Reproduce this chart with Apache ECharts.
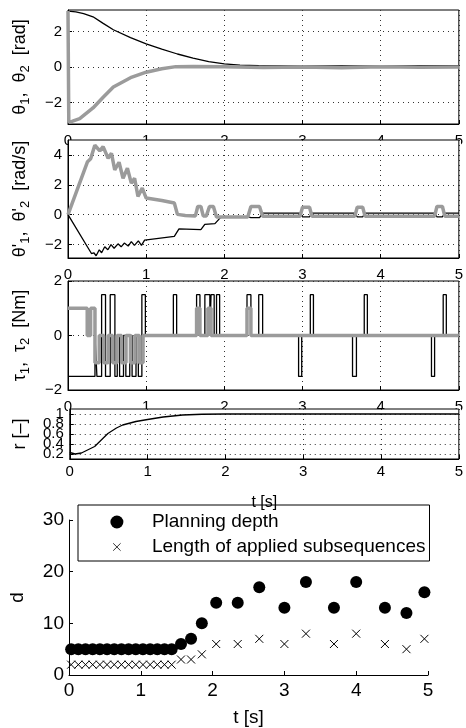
<!DOCTYPE html>
<html>
<head>
<meta charset="utf-8">
<script src="https://cdn.jsdelivr.net/npm/echarts@6/dist/echarts.min.js"></script>
<style>
html, body { margin: 0; padding: 0; background: #fff; }
#main { width: 466px; height: 728px; }
</style>
</head>
<body>
<div id="main"></div>
<script>
var chart = echarts.init(document.getElementById('main'));

// angles [rad]
var theta1 = [[0,3.14],[0.1,3.1],[0.2,3.0],[0.32,2.82],[0.45,2.45],[0.58,2.09],[0.8,1.65],[1.0,1.30],[1.2,1.0],[1.4,0.73],[1.6,0.5],[1.8,0.3],[2.0,0.17],[2.2,0.1],[2.44,0.07],[3,0.05],[3.5,0.06],[4,0.05],[4.5,0.07],[5,0.07]];
var theta2 = [[0,3.14],[0.01,-3.1],[0.05,-3.05],[0.15,-2.9],[0.32,-2.3],[0.45,-1.7],[0.58,-1.12],[0.8,-0.6],[1.0,-0.29],[1.2,-0.1],[1.38,0.02],[1.6,0.03],[2.0,0.02],[2.5,-0.03],[3,0.0],[3.5,-0.04],[4,0.02],[4.5,-0.02],[5,0.0]];

// angular velocities [rad/s]
var dtheta1 = [[0,0],[0.30,-2.6],[0.33,-2.55],[0.36,-2.75],[0.40,-2.35],[0.43,-2.55],[0.47,-2.15],[0.51,-2.35],[0.55,-2.0],[0.59,-2.25],[0.64,-1.95],[0.68,-2.15],[0.72,-1.9],[0.77,-2.1],[0.81,-1.8],[0.85,-2.05],[0.90,-1.75],[0.94,-2.05],[0.98,-1.7],[1.0,-1.65],[1.36,-1.45],[1.42,-0.95],[1.70,-1.0],[1.75,-0.65],[1.88,-0.6],[1.95,-0.2],[2.0,-0.15],[2.30,-0.15],[2.34,-0.2],[2.45,-0.2],[2.49,0.1],[2.97,0.1],[3.0,-0.15],[3.09,-0.15],[3.12,0.1],[3.67,0.1],[3.70,-0.15],[3.77,-0.15],[3.80,0.1],[4.69,0.1],[4.72,-0.15],[4.79,-0.15],[4.82,0.1],[5,0.1]];
var dtheta2 = [[0,0],[0.25,3.55],[0.29,3.75],[0.343,4.65],[0.407,4.27],[0.449,4.56],[0.513,3.78],[0.556,4.11],[0.598,3.0],[0.653,3.51],[0.704,2.44],[0.76,3.11],[0.81,2.11],[0.852,2.44],[0.895,1.22],[0.95,1.78],[1.0,1.11],[1.2,0.95],[1.36,0.78],[1.40,0.02],[1.5,-0.05],[1.63,-0.08],[1.66,0.55],[1.70,0.55],[1.73,-0.08],[1.77,-0.08],[1.81,0.55],[1.86,0.55],[1.90,-0.15],[2.3,-0.15],[2.34,0.55],[2.45,0.55],[2.49,-0.1],[2.97,-0.1],[3.0,0.5],[3.09,0.5],[3.12,-0.1],[3.67,-0.1],[3.70,0.5],[3.77,0.5],[3.80,-0.1],[4.69,-0.1],[4.72,0.55],[4.79,0.55],[4.82,-0.1],[5,-0.1]];

// torques [Nm], value held from each switching time
var tau1T = [0,0.345,0.37,0.43,0.48,0.54,0.60,0.63,0.66,0.71,0.74,0.79,0.82,0.87,0.90,0.945,0.99,1.348,1.39,1.645,1.688,1.751,1.815,1.83,1.87,1.90,1.94,2.29,2.34,2.44,2.49,2.95,2.99,3.10,3.14,3.64,3.69,3.79,3.83,4.65,4.69,4.80,4.84,5];
var tau1V = [-1.5,0,-1.5,1.5,-1.5,1.5,-1.5,0,-1.5,0,-1.5,0,-1.5,0,-1.5,1.5,0,1.5,0,1.5,0,1.5,0,1.5,0,1.5,0,1.5,0,1.5,0,-1.5,0,1.5,0,-1.5,0,1.5,0,-1.5,0,1.5,0,0];
var tau2T = [0,0.246,0.289,0.345,0.40,0.457,0.514,0.571,0.628,0.685,0.742,0.799,0.856,0.913,0.96,1.645,1.688,1.79,1.83,2.29,2.34,5];
var tau2V = [1,0,1,-1,0,-1,0,-1,0,-1,0,-1,0,-1,0,1,0,1,0,1,0,0];

// r [-]
var rVals = [[0,0.23],[0.07,0.2],[0.15,0.22],[0.32,0.35],[0.49,0.61],[0.6,0.72],[0.68,0.78],[0.85,0.85],[1.0,0.89],[1.2,0.94],[1.45,0.98],[1.7,0.995],[2,1.0],[5,1.0]];

// planning depth and subsequence length
var depthT = [0.03,0.13,0.23,0.33,0.43,0.53,0.63,0.73,0.83,0.93,1.03,1.13,1.23,1.33,1.43,1.56,1.70,1.85,2.05,2.35,2.65,3.0,3.3,3.69,4.0,4.40,4.70,4.95];
var depthV = [5,5,5,5,5,5,5,5,5,5,5,5,5,5,5,6,7,10,14,14,17,13,18,13,18,13,12,16];
var subLenV = [2,2,2,2,2,2,2,2,2,2,2,2,2,2,2,3,3,4,6,6,7,6,8,6,8,6,5,7];

var yTicks = [[-2,0,2],[-2,0,2,4],[-2,0,2],[0.2,0.6,1],[0,10,20,30]];
var rTicksExtra = [0.4,0.8];
var yRange = [[-3.2,3.2],[-2.9,5],[-2,2],[0.1,1.1],[0,30]];

function zip(ts, vs) {
  return ts.map(function (t, i) { return [t, vs[i]]; });
}
function fmt(v) { return String(v).replace('-', '\u2212'); }

var FONT = 'Liberation Sans, Arial, sans-serif';
var gridPos = [
  {top: 10, height: 114},
  {top: 140, height: 118},
  {top: 281, height: 109},
  {top: 409, height: 50}
];
var yNames = [
  '\u03b8{s|1},  \u03b8{s|2}  [rad]',
  '\u03b8\'{s|1},  \u03b8\'{s|2}  [rad/s]',
  '\u03c4{s|1},  \u03c4{s|2}  [Nm]',
  'r [\u2013]'
];
var nameStyle = {
  fontSize: 18, color: '#000', fontFamily: FONT, lineHeight: 24,
  rich: {s: {fontSize: 13, fontFamily: FONT, verticalAlign: 'bottom', color: '#000'}}
};
var dotted = {show: true, lineStyle: {color: '#333', width: 1, type: [1, 4]}};

var grids = [], xAxes = [], yAxes = [], covers = [];
gridPos.forEach(function (g, i) {
  // white panel that hides the tick labels of the panel above, as in the original figure
  if (i > 0) {
    covers.push({type: 'rect', left: 68, top: g.top, silent: true, z: 4 * i,
      shape: {width: 393, height: g.height}, style: {fill: '#fff'}});
  }
  grids.push({left: 68, right: 5, top: g.top, height: g.height, show: true,
    backgroundColor: 'transparent', borderColor: '#000', borderWidth: 1, z: 4 * i + 1});
  xAxes.push({type: 'value', gridIndex: i, min: 0, max: 5, interval: 1, z: 4 * i + 2,
    axisLine: {show: true, onZero: false, lineStyle: {color: '#000'}},
    axisTick: {inside: true, length: 4, lineStyle: {color: '#000'}},
    axisLabel: {color: '#000', fontSize: 15, fontFamily: FONT, margin: i === 3 ? 5 : 9,
      hideOverlap: false, showMinLabel: true, showMaxLabel: true},
    splitLine: dotted,
    name: i === 3 ? 't [s]' : '', nameLocation: 'middle', nameGap: 36,
    nameTextStyle: {fontSize: 16, color: '#000', fontFamily: FONT}});
  var ticks = i === 3 ? yTicks[i].concat(rTicksExtra) : yTicks[i];
  yAxes.push({type: 'value', gridIndex: i, min: yRange[i][0], max: yRange[i][1], z: 4 * i + 2,
    axisLine: {show: true, onZero: false, lineStyle: {color: '#000'}},
    axisTick: {inside: true, length: 4, lineStyle: {color: '#000'}, customValues: ticks},
    axisLabel: {color: '#000', fontSize: 15, fontFamily: FONT, margin: 6, formatter: fmt,
      customValues: yTicks[i], hideOverlap: false, showMinLabel: true, showMaxLabel: true},
    splitLine: dotted,
    name: yNames[i], nameLocation: 'middle', nameRotate: 90, nameGap: 36, nameTextStyle: nameStyle});
});

// bottom plot
grids.push({left: 63, right: 38, top: 520, height: 157, z: 17});
xAxes.push({type: 'value', gridIndex: 4, min: 0, max: 5, interval: 1, z: 18,
  axisLine: {show: true, onZero: false, lineStyle: {color: '#000'}},
  axisTick: {inside: true, length: 4, lineStyle: {color: '#000'}},
  axisLabel: {color: '#000', fontSize: 19, fontFamily: FONT, margin: 6, hideOverlap: false},
  splitLine: {show: false},
  name: 't [s]', nameLocation: 'middle', nameGap: 33,
  nameTextStyle: {fontSize: 19, color: '#000', fontFamily: FONT}});
yAxes.push({type: 'value', gridIndex: 4, min: 0, max: 30, interval: 10, z: 18,
  axisLine: {show: true, onZero: false, lineStyle: {color: '#000'}},
  axisTick: {inside: true, length: 4, lineStyle: {color: '#000'}},
  axisLabel: {color: '#000', fontSize: 19, fontFamily: FONT, margin: 5, hideOverlap: false},
  splitLine: {show: false},
  name: 'd', nameLocation: 'middle', nameRotate: 90, nameGap: 42,
  nameTextStyle: {fontSize: 19, color: '#000', fontFamily: FONT}});
// second label row for r axis (the labels overlap in the original)
yAxes.push({type: 'value', gridIndex: 3, min: yRange[3][0], max: yRange[3][1], z: 15,
  position: 'left', offset: 0,
  axisLine: {show: false}, axisTick: {show: false}, splitLine: {show: false},
  axisLabel: {color: '#000', fontSize: 15, fontFamily: FONT, margin: 6,
    customValues: rTicksExtra, hideOverlap: false}});

var BLACK = {color: '#000', width: 1.3};
var GRAY = {color: '#9b9b9b', width: 3.5};
function line(i, data, style, step) {
  return {type: 'line', xAxisIndex: i, yAxisIndex: i, data: data, showSymbol: false,
    step: step || false, lineStyle: style, itemStyle: {color: style.color},
    z: 4 * i + 3, animation: false, silent: true};
}

var crossPath = 'path://M0,0L8,8M8,0L0,8';
var option = {
  animation: false,
  grid: grids,
  xAxis: xAxes,
  yAxis: yAxes,
  graphic: covers,
  legend: {
    left: 78, top: 505, orient: 'vertical',
    borderColor: '#000', borderWidth: 1, padding: [7, 4, 4, 32],
    itemWidth: 60, itemHeight: 13, itemGap: 5,
    textStyle: {fontSize: 19, color: '#000', fontFamily: FONT, lineHeight: 20},
    data: [
      {name: 'Planning depth', icon: 'circle'},
      {name: 'Length of applied subsequences', icon: 'path://M-3,-3M0,0L8,8M8,0L0,8M11,11',
        itemStyle: {color: 'rgba(0,0,0,0)', borderColor: '#000', borderWidth: 0.8}}
    ]
  },
  series: [
    line(0, theta1, BLACK),
    line(0, theta2, GRAY),
    line(1, dtheta1, BLACK),
    line(1, dtheta2, GRAY),
    line(2, zip(tau1T, tau1V), BLACK, 'end'),
    line(2, zip(tau2T, tau2V), GRAY, 'end'),
    line(3, rVals, BLACK),
    {type: 'scatter', name: 'Planning depth', xAxisIndex: 4, yAxisIndex: 4,
      data: zip(depthT, depthV), symbol: 'circle', symbolSize: 12,
      itemStyle: {color: '#000', opacity: 1}, z: 19},
    {type: 'scatter', name: 'Length of applied subsequences', xAxisIndex: 4, yAxisIndex: 4,
      data: zip(depthT, subLenV), symbol: crossPath, symbolSize: 8,
      itemStyle: {color: 'rgba(0,0,0,0)', borderColor: '#000', borderWidth: 1, opacity: 1}, z: 19}
  ]
};
chart.setOption(option);
</script>
</body>
</html>
